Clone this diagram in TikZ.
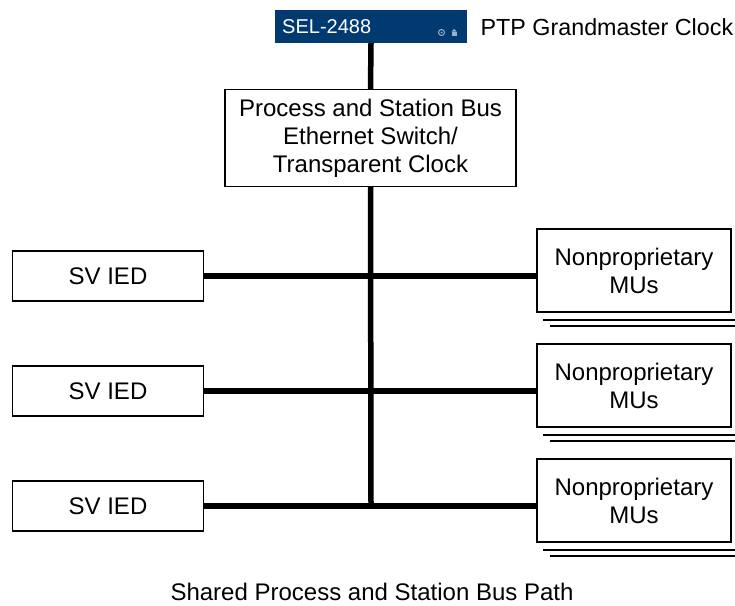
\documentclass[tikz,border=0pt]{standalone}
\usepackage{fontspec}
\setmainfont{Liberation Sans}
\usetikzlibrary{calc}
\definecolor{selblue}{HTML}{003A70}
\definecolor{iconc}{HTML}{9FB0C8}
\tikzset{
  box/.style={draw=black, line width=1.4pt, fill=white, inner sep=0pt, align=center, font=\fontsize{24}{28}\selectfont},
  bus/.style={line width=5.5pt},
  stackline/.style={line width=1.8pt},
  lbl/.style={inner sep=0pt, font=\fontsize{24}{28}\selectfont}
}
\begin{document}
\begin{tikzpicture}[x=1pt,y=-1pt]
\useasboundingbox (0,0) rectangle (735,605);
\coordinate (bottom) at (371,506);
\node[fill=selblue, minimum width=192pt, minimum height=33pt, inner sep=0pt] (sel) at (371,26.5) {};
\node[anchor=west, text=white, inner sep=0pt, font=\fontsize{20}{24}\selectfont] (seltext) at (282,27) {SEL-2488};
\node[draw=iconc, circle, line width=1pt, minimum size=6pt, inner sep=0pt] (icon1) at (441.5,32.5) {};
\fill[iconc] (icon1.center) circle (1pt);
\fill[iconc] (451.5,35.5) rectangle (456.5,31.5);
\fill[iconc] (451.5,31.5) -- (454,29) -- (456.5,31.5) -- cycle;
\node[inner sep=0pt, anchor=west, font=\fontsize{23.3}{28}\selectfont] (ptp) at (480.5,27) {PTP Grandmaster Clock};
\node[box, minimum width=291pt, minimum height=97pt] (sw) at (370.5,138) {Process and Station Bus\\Ethernet Switch/\\Transparent Clock};
\draw[bus] (sel.south) -- (sw.north);
\draw[bus] (sw.south) -- (bottom);
\foreach \i/\y in {1/276,2/391,3/506}{
  \node[box, minimum width=191pt, minimum height=50pt] (ied\i) at (108,\y) {SV IED};
  \node[box, minimum width=194pt, minimum height=83pt] (mu\i) at (634,\y-5.5) {Nonproprietary\\MUs};
  \draw[stackline] ($(mu\i.south west)+(7,7)$) -- ($(mu\i.south east)+(4,7)$);
  \draw[stackline] ($(mu\i.south west)+(14,13)$) -- ($(mu\i.south east)+(4,13)$);
  \draw[bus] (ied\i.east) -- (ied\i.east -| mu\i.west);
}
\node[lbl, anchor=base] (cap) at (372,600) {Shared Process and Station Bus Path};
\end{tikzpicture}
\end{document}
